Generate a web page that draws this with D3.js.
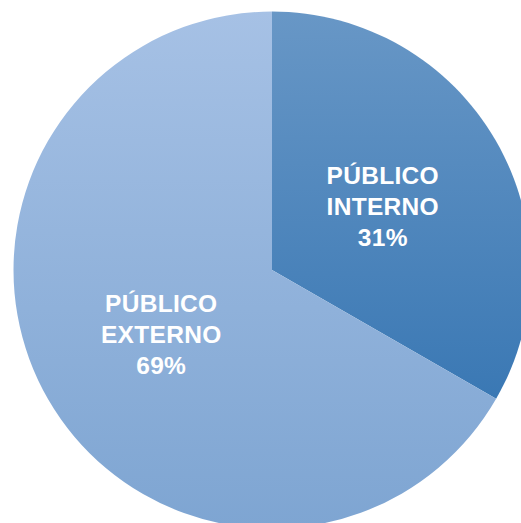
<!DOCTYPE html>
<html>
<head>
<meta charset="utf-8">
<script src="https://cdn.jsdelivr.net/npm/d3@7"></script>
<style>
html,body{margin:0;padding:0;background:#fff;overflow:hidden;}
svg{display:block;}
</style>
</head>
<body>
<svg id="chart" width="521" height="523"></svg>
<script>
// Data
const categories = ["PÚBLICO INTERNO", "PÚBLICO EXTERNO"];
const labelLines = [["PÚBLICO", "INTERNO", "31%"], ["PÚBLICO", "EXTERNO", "69%"]];
const sliceValues = [33.3, 66.7]; // angular share as drawn in the reference
const colorsTop = ["#6897c6", "#a6c1e5"];
const colorsBottom = ["#3a78b4", "#7ea5d2"];

const W = 521, H = 523;
const cx = 272, cy = 270, R = 258.5;

const svg = d3.select("#chart");
const defs = svg.append("defs");
categories.forEach((c, i) => {
  const g = defs.append("linearGradient")
    .attr("id", "grad" + i)
    .attr("gradientUnits", "userSpaceOnUse")
    .attr("x1", 0).attr("y1", -R).attr("x2", 0).attr("y2", i === 0 ? 130 : R);
  g.append("stop").attr("offset", "0%").attr("stop-color", colorsTop[i]);
  g.append("stop").attr("offset", "100%").attr("stop-color", colorsBottom[i]);
});

const pie = d3.pie().sort(null).value(d => d.v);
const data = pie(categories.map((c, i) => ({c, v: sliceValues[i], i})));
const arc = d3.arc().innerRadius(0).outerRadius(R);

const g = svg.append("g").attr("transform", `translate(${cx},${cy})`);
g.selectAll("path").data(data).enter().append("path")
  .attr("d", arc)
  .attr("fill", d => `url(#grad${d.data.i})`);

// Labels
const labelArc = d3.arc().innerRadius(128).outerRadius(128);
const fontSize = 24.5;
const lineH = 31;
data.forEach(d => {
  const [x, y] = labelArc.centroid(d);
  const t = g.append("text")
    .attr("text-anchor", "middle")
    .attr("font-family", "Liberation Sans, Arial, sans-serif")
    .attr("font-weight", "bold")
    .attr("font-size", fontSize)
    .attr("letter-spacing", 0.3)
    .attr("fill", "#ffffff");
  const lines = labelLines[d.data.i];
  lines.forEach((ln, k) => {
    t.append("tspan")
      .attr("x", x)
      .attr("y", y + (k - (lines.length - 1) / 2) * lineH + fontSize * 0.36)
      .text(ln);
  });
});
</script>
</body>
</html>
